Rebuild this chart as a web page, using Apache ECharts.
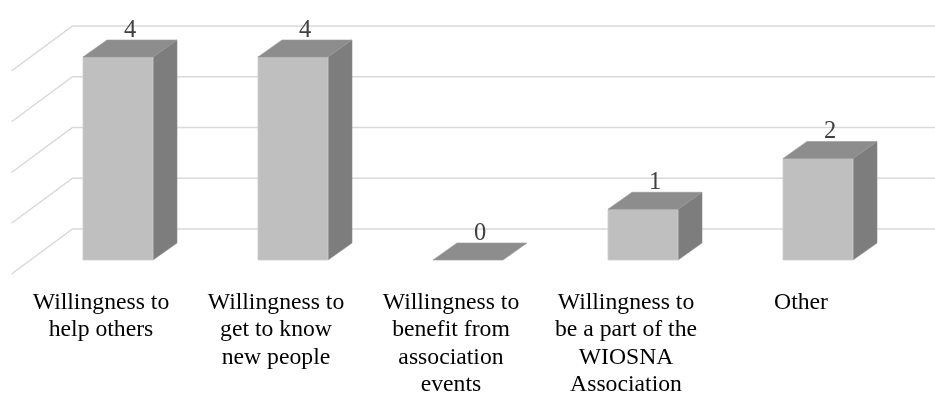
<!DOCTYPE html>
<html>
<head>
<meta charset="utf-8">
<script src="https://cdn.jsdelivr.net/npm/echarts@6/dist/echarts.min.js"></script>
<style>
  html, body { margin: 0; padding: 0; background: #ffffff; }
  #chart { width: 935px; height: 394px; }
</style>
</head>
<body>
<div id="chart"></div>
<script>
// Motivation categories (line breaks as they wrap under the columns)
const categories = [
  'Willingness to\nhelp others',
  'Willingness to\nget to know\nnew people',
  'Willingness to\nbenefit from\nassociation\nevents',
  'Willingness to\nbe a part of the\nWIOSNA\nAssociation',
  'Other'
];
// Number of answers per category
const counts = [4, 4, 0, 1, 2];
// Value-axis ticks drawn as wall gridlines
const ticks = [0, 1, 2, 3, 4];

// Oblique projection offsets (pixels) for the 3D look
const BAR_DEPTH = { dx: 24, dy: -17 };   // column front -> column back
const WALL_BACK = { dx: 42, dy: -31 };   // column front plane -> back wall
const WALL_FRONT = { dx: -61, dy: 45 };  // back wall -> front edge of side wall

const chart = echarts.init(document.getElementById('chart'), null, { renderer: 'canvas' });

function renderWall(params, api) {
  const cs = params.coordSys;
  const p = api.coord([0, api.value(1)]);
  const yBack = p[1] + WALL_BACK.dy;
  const xBack = cs.x + WALL_BACK.dx;
  return {
    type: 'polyline',
    shape: {
      points: [
        [xBack + WALL_FRONT.dx, yBack + WALL_FRONT.dy],
        [xBack, yBack],
        [api.getWidth(), yBack]
      ]
    },
    style: { stroke: '#d9d9d9', lineWidth: 1.5, fill: null },
    silent: true
  };
}

function renderColumn(params, api) {
  const idx = api.value(0);
  const val = api.value(1);
  const base = api.coord([idx, 0]);
  const top = api.coord([idx, val]);
  const w = api.size([1, 0])[0] * 0.4;
  const x0 = top[0] - w / 2;
  const x1 = x0 + w;
  const y0 = top[1];
  const yb = base[1];
  const dx = BAR_DEPTH.dx, dy = BAR_DEPTH.dy;
  const children = [];
  if (yb - y0 > 0.5) {
    children.push({
      type: 'polygon',
      shape: { points: [[x1, yb], [x1, y0], [x1 + dx, y0 + dy], [x1 + dx, yb + dy]] },
      style: { fill: '#7d7d7d', stroke: '#8a8a8a', lineWidth: 0.6 }
    });
    children.push({
      type: 'rect',
      shape: { x: x0, y: y0, width: w, height: yb - y0 },
      style: { fill: '#bfbfbf', stroke: '#cdcdcd', lineWidth: 0.8 }
    });
  }
  children.push({
    type: 'polygon',
    shape: { points: [[x0, y0], [x1, y0], [x1 + dx, y0 + dy], [x0 + dx, y0 + dy]] },
    style: { fill: '#8d8d8d', stroke: '#999999', lineWidth: 0.6 }
  });
  children.push({
    type: 'text',
    style: {
      text: String(val),
      x: x0 + w / 2 + dx / 2,
      y: y0 + dy + 3,
      align: 'center',
      verticalAlign: 'bottom',
      fontFamily: '"Liberation Serif", "Times New Roman", serif',
      fontSize: 24.5,
      fill: '#404040'
    }
  });
  return { type: 'group', children: children };
}

chart.setOption({
  animation: false,
  backgroundColor: '#ffffff',
  grid: {
    left: 30.5, right: 29.5, top: 57, bottom: 134,
    containLabel: false,
    outerBoundsMode: 'none'
  },
  xAxis: {
    type: 'category',
    data: categories,
    axisLine: { show: false },
    axisTick: { show: false },
    splitLine: { show: false },
    axisLabel: {
      interval: 0,
      margin: 29,
      color: '#000000',
      fontFamily: '"Liberation Serif", "Times New Roman", serif',
      fontSize: 23.7,
      lineHeight: 27.4,
      align: 'center',
      padding: [0, 34, 0, 0]
    }
  },
  yAxis: {
    type: 'value',
    min: 0,
    max: 4,
    interval: 1,
    show: false,
    splitLine: { show: false }
  },
  series: [
    {
      type: 'custom',
      name: 'walls',
      z: 1,
      silent: true,
      renderItem: renderWall,
      data: ticks.map(t => [0, t]),
      encode: { x: 0, y: 1 }
    },
    {
      type: 'custom',
      name: 'answers',
      z: 2,
      renderItem: renderColumn,
      data: counts.map((v, i) => [i, v]),
      encode: { x: 0, y: 1 }
    }
  ]
});
</script>
</body>
</html>
